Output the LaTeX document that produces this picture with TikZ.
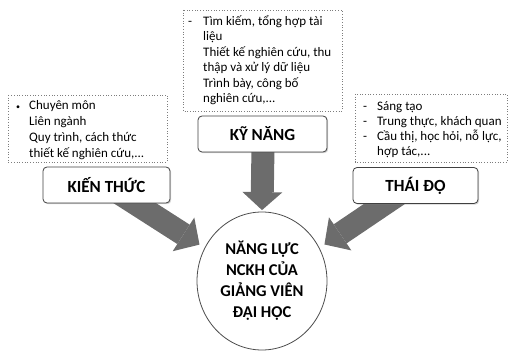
\documentclass[tikz,border=0pt]{standalone}
\usepackage{fontspec}
\setmainfont{Carlito}
\usetikzlibrary{arrows.meta,shapes.geometric,shadows}
\pgfdeclarelayer{background}
\pgfsetlayers{background,main}
\definecolor{arrowgray}{RGB}{108,108,108}
\definecolor{framegray}{RGB}{125,125,125}
\begin{document}
\begin{tikzpicture}[x=1pt,y=-1pt,
  headbox/.style={draw=black!75, line width=0.8pt, rounded corners=4pt, fill=white,
    minimum width=127pt, minimum height=36pt, inner sep=0pt,
    font=\fontsize{17}{20}\selectfont\bfseries,
    drop shadow={shadow xshift=1.2pt, shadow yshift=-1.2pt, opacity=0.35}},
  listtext/.style={anchor=north west, align=left, inner sep=0pt,
    font=\fontsize{13}{16}\selectfont},
  dotframe/.style={draw=framegray, dotted, line width=0.7pt},
  bigarrow/.style={draw=arrowgray, line width=23pt,
    -{Triangle[width=40pt,length=19pt,line width=0pt]}},
  core/.style={ellipse, draw=black!70, line width=0.8pt, fill=white,
    minimum width=130pt, minimum height=138pt, inner sep=0pt, align=center,
    font=\fontsize{16.5}{21}\selectfont\bfseries}]
\useasboundingbox (0,0) rectangle (510,352);

% dotted frames
\draw[dotframe] (8,95) rectangle (167,162);
\draw[dotframe] (183,10) rectangle (342,111);
\draw[dotframe] (355,94) rectangle (507,162);

% list texts
\node[listtext] (ktlist) at (29,98)
  {\llap{\fontsize{8}{8}\selectfont•\hspace{9pt}}\strut Chuyên môn\\Liên ngành\\Quy trình, cách thức\\thiết kế nghiên cứu,...};
\node[listtext, font=\fontsize{13}{15.5}\selectfont] (knlist) at (203,14.4)
  {\llap{-\hspace{11pt}}\strut Tìm kiếm, tổng hợp tài\\liệu\\Thiết kế nghiên cứu, thu\\thập và xử lý dữ liệu\\Trình bày, công bố\\nghiên cứu,...};
\node[listtext, font=\fontsize{13}{15}\selectfont] (tdlist) at (377,99.7)
  {\llap{-\hspace{10pt}}\strut Sáng tạo\\\llap{-\hspace{10pt}}Trung thực, khách quan\\\llap{-\hspace{10pt}}Cầu thị, học hỏi, nỗ lực,\\hợp tác,...};

% header boxes
\node[headbox] (kt) at (106.5,185) {KIẾN THỨC};
\node[headbox, minimum width=129pt] (kn) at (262.5,134) {KỸ NĂNG};
\node[headbox, minimum width=125pt] (td) at (415.5,185.5) {THÁI ĐỘ};

% central circle
\node[core] (nl) at (262,281) {NĂNG LỰC\\NCKH CỦA\\GIẢNG VIÊN\\ĐẠI HỌC};

% arrows
\begin{pgfonlayer}{background}
\draw[bigarrow, shorten >=6pt] ([shift={(11.5,-11)}]kt.south) -- (nl.150);
\draw[bigarrow, shorten >=1.5pt, -{Triangle[width=40pt,length=18pt,line width=0pt]}] ([shift={(0.5,-5)}]kn.south) -- (nl.north);
\draw[bigarrow, shorten >=6pt] ([shift={(-15.5,-10.5)}]td.south) -- (nl.30);
\end{pgfonlayer}
\end{tikzpicture}
\end{document}
